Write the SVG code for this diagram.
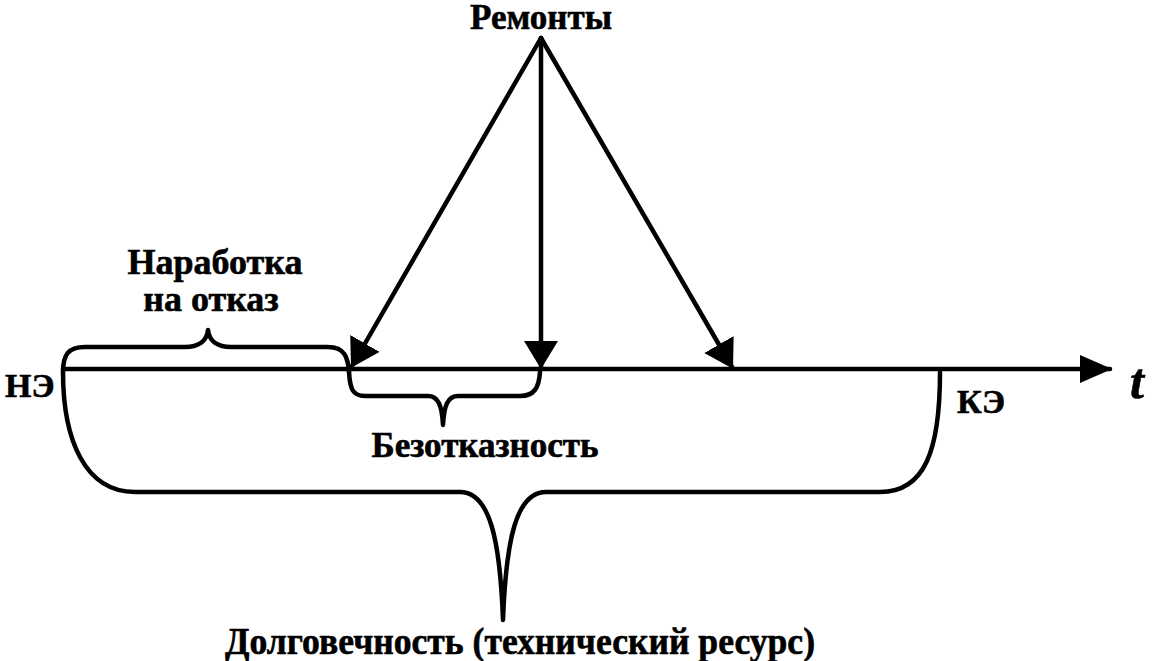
<svg xmlns="http://www.w3.org/2000/svg" width="1153" height="661" viewBox="0 0 1153 661">
<style>
.t{font-family:"Liberation Serif","DejaVu Serif","Times New Roman",serif;font-weight:bold;fill:#000;stroke:#000;stroke-width:0.6}
.ln{stroke:#000;stroke-width:4.5;fill:none;stroke-linecap:round;stroke-linejoin:round}
.br{stroke:#000;stroke-width:4.5;fill:none;stroke-linecap:round;stroke-linejoin:round}
</style>
<defs>
<marker id="ah" viewBox="0 0 28 34" refX="26" refY="17" markerWidth="28" markerHeight="34" markerUnits="userSpaceOnUse" orient="auto">
<path d="M0,0 L28,17 L0,34 Z" fill="#000"/>
</marker>
<marker id="axh" viewBox="0 0 32 28" refX="30" refY="14" markerWidth="32" markerHeight="28" markerUnits="userSpaceOnUse" orient="auto">
<path d="M0,0 L32,14 L0,28 Z" fill="#000"/>
</marker>
</defs>
<rect width="1153" height="661" fill="#fff"/>
<g id="connectors">
<line class="ln" x1="63" y1="369" x2="1110" y2="369" marker-end="url(#axh)"/>
<line class="ln" x1="541" y1="38" x2="352" y2="366" marker-end="url(#ah)"/>
<line class="ln" x1="541" y1="38" x2="541" y2="367" marker-end="url(#ah)"/>
<line class="ln" x1="541" y1="38" x2="732" y2="367" marker-end="url(#ah)"/>
<path id="brace-narabotka" class="br" d="M63,372 C63,355 68,347 85,347 L185,347 C200,347 207,340 208,330 C209,340 216,347 231,347 L328,347 C345,347 348,358 349,372"/>
<path id="brace-bezotkaznost" class="br" d="M349,372 C350,388 352,396 365,396 L428,396 C438,396 442,405 443,425 C444,405 448,396 458,396 L520,396 C534,396 539,388 540,372"/>
<path id="brace-dolgovechnost" class="br" d="M63,372 C63,440 85,492 135,492 L460,492 C490,492 500,540 503,620 C506,540 516,492 546,492 L880,492 C925,492 940,450 940,372"/>
</g>
<g id="node-remonty"><text class="t" x="541" y="29" font-size="35" text-anchor="middle">Ремонты</text></g>
<g id="node-narabotka"><text class="t" x="215" y="274" font-size="36" text-anchor="middle">Наработка</text><text class="t" x="211" y="311" font-size="36" text-anchor="middle">на отказ</text></g>
<g id="node-ne"><text class="t" x="5" y="397" font-size="34">НЭ</text></g>
<g id="node-ke"><text class="t" x="957" y="413" font-size="34">КЭ</text></g>
<g id="node-t"><text class="t" x="1130" y="398" font-size="50" font-style="italic">t</text></g>
<g id="node-bezotkaznost"><text class="t" x="485" y="457" font-size="35" text-anchor="middle">Безотказность</text></g>
<g id="node-dolgovechnost"><text class="t" x="225" y="654" font-size="37" textLength="590" lengthAdjust="spacingAndGlyphs">Долговечность (технический ресурс)</text></g>
</svg>
